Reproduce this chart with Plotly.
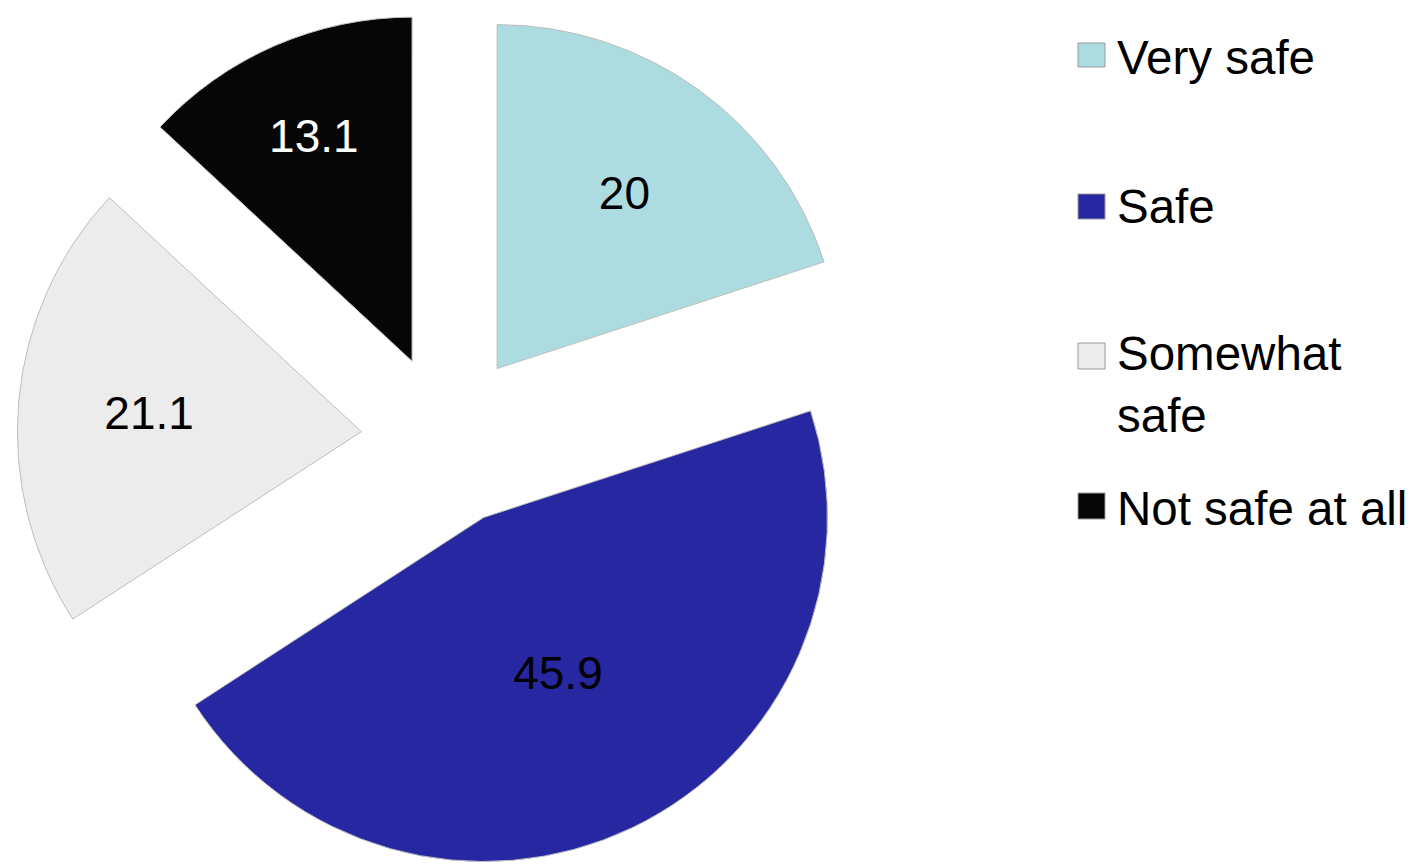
import plotly.graph_objects as go

labels = ["Very safe", "Safe", "Somewhat safe", "Not safe at all"]
legend_labels = ["Very safe", "Safe", "Somewhat<br>safe", "Not safe at all"]
values = [20, 45.9, 21.1, 13.1]
colors = ["#ADDCE0", "#2727A2", "#ECECEC", "#060606"]
text_colors = ["#000000", "#000000", "#000000", "#FFFFFF"]
pulls = [0.253, 0.253, 0.247, 0.247]

W, H = 1422, 865
OFF = 8  # page offset of the plot div


def px(x):
    return (x - OFF) / W


def py(y):
    return 1 - (y - OFF) / H


# pie placement (page pixels)
cx, cy, R = 446, 439, 344
half = R * (1 + max(pulls))

fig = go.Figure()
fig.add_trace(go.Pie(
    labels=labels,
    values=values,
    sort=False,
    direction="clockwise",
    rotation=0,
    pull=pulls,
    marker=dict(colors=colors, line=dict(color="#BEBEBE", width=1)),
    textinfo="value",
    textposition="inside",
    insidetextorientation="horizontal",
    textfont=dict(family="Liberation Sans, Arial, sans-serif", size=46, color=text_colors),
    showlegend=False,
    domain=dict(x=[max(0, px(cx - half)), min(1, px(cx + half))],
                y=[max(0, py(cy + half)), min(1, py(cy - half))]),
    hoverinfo="label+value",
))

# Custom legend (page pixel positions)
legend_sq = [(43, 67), (194, 219), (343, 369), (493, 519)]
legend_txt_y = [58, 206, 384, 508]
sq_x0, sq_x1 = 1078, 1105
for lab, col, (y0, y1), ty in zip(legend_labels, colors, legend_sq, legend_txt_y):
    fig.add_shape(type="rect", xref="paper", yref="paper",
                  x0=px(sq_x0), x1=px(sq_x1), y0=py(y1), y1=py(y0),
                  fillcolor=col, line=dict(color="#9A9A9A", width=1))
    fig.add_annotation(xref="paper", yref="paper", x=px(1115), y=py(ty),
                       xanchor="left", yanchor="middle", align="left",
                       text=lab, showarrow=False,
                       font=dict(family="Liberation Sans, Arial, sans-serif", size=47.5, color="#000000"))

fig.update_layout(
    width=W, height=H,
    margin=dict(l=0, r=0, t=0, b=0),
    paper_bgcolor="#FFFFFF",
    plot_bgcolor="#FFFFFF",
)

fig.write_html("out.html")
